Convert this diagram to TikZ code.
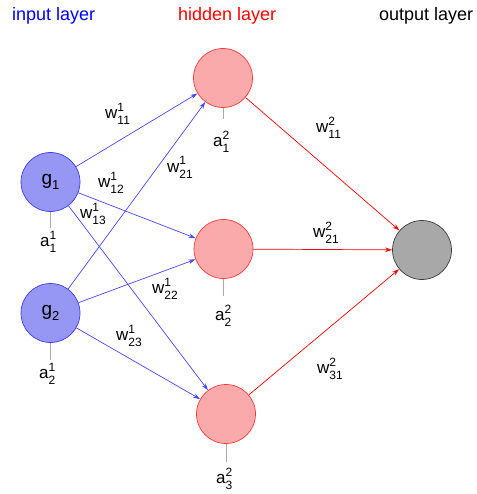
\documentclass[tikz,border=0pt]{standalone}
\usepackage{fontspec}
\setmainfont{Liberation Sans}
\usetikzlibrary{arrows.meta}
\definecolor{inblue}{RGB}{70,70,255}
\definecolor{inborder}{RGB}{60,60,240}
\definecolor{infill}{RGB}{150,150,245}
\definecolor{hidborder}{RGB}{245,60,60}
\definecolor{hidfill}{RGB}{250,170,170}
\definecolor{outfill}{RGB}{168,168,168}
\definecolor{outborder}{RGB}{60,60,60}
\definecolor{stemgray}{RGB}{170,170,170}
\newcommand\sps[3]{#1\makebox[0pt][l]{\raisebox{7pt}{\fontsize{12}{12}\selectfont #3}}\raisebox{-6pt}{\fontsize{12}{12}\selectfont #2}}
\newcommand\gsub[2]{#1\raisebox{-5pt}{\fontsize{13}{13}\selectfont #2}}
\begin{document}
\begin{tikzpicture}[x=1pt,y=-1pt,
  neuron/.style={circle,minimum size=59pt,inner sep=0pt,line width=0.7pt},
  inneuron/.style={neuron,draw=inborder,fill=infill},
  hidneuron/.style={neuron,draw=hidborder,fill=hidfill},
  outneuron/.style={neuron,draw=outborder,fill=outfill},
  title/.style={anchor=base west,inner sep=0pt,font=\fontsize{18}{18}\selectfont},
  wlab/.style={anchor=base west,inner sep=0pt,font=\fontsize{17}{17}\selectfont},
  bluearrow/.style={draw=inblue,line width=0.7pt,-{Stealth[length=7pt,width=4.5pt]}},
  redarrow/.style={draw=red,line width=0.7pt,-{Stealth[length=7pt,width=4.5pt]}},
  stem/.style={draw=stemgray,line width=0.9pt}]
\useasboundingbox (0,0) rectangle (476,494);

% titles
\node[title,text=blue] (tin) at (12,21) {input layer};
\node[title,text=red] (thid) at (178,21) {hidden layer};
\node[title,text=black] (tout) at (379,21) {output layer};

% neurons
\node[inneuron] (g1) at (50.5,182) {\fontsize{19}{19}\selectfont\gsub{g}{1}};
\node[inneuron] (g2) at (50.5,313) {\fontsize{19}{19}\selectfont\gsub{g}{2}};
\node[hidneuron] (h1) at (223,78) {};
\node[hidneuron] (h2) at (223.5,249) {};
\node[hidneuron] (h3) at (226,414) {};
\node[outneuron] (o) at (422,250) {};

% stems
\coordinate (sg1) at (50.5,228);
\coordinate (sg2) at (50.5,360);
\coordinate (sh1) at (223,119);
\coordinate (sh2) at (223.5,296);
\coordinate (sh3) at (226,462);
\draw[stem] (g1) -- (sg1);
\draw[stem] (g2) -- (sg2);
\draw[stem] (h1) -- (sh1);
\draw[stem] (h2) -- (sh2);
\draw[stem] (h3) -- (sh3);

% activation labels
\node[wlab] (a11) at (40,246) {\sps{a}{1}{1}};
\node[wlab] (a21) at (39,378) {\sps{a}{2}{1}};
\node[wlab] (a12) at (213,147) {\sps{a}{1}{2}};
\node[wlab] (a22) at (215,320) {\sps{a}{2}{2}};
\node[wlab] (a32) at (216,483) {\sps{a}{3}{2}};

% connections input -> hidden
\draw[bluearrow] (g1) -- (h1);
\draw[bluearrow] (g1) -- (h2);
\draw[bluearrow] (g1) -- (h3);
\draw[bluearrow] (g2) -- (h1);
\draw[bluearrow] (g2) -- (h2);
\draw[bluearrow] (g2) -- (h3);

% connections hidden -> output
\draw[redarrow] (h1) -- (o);
\draw[redarrow] (h2) -- (o);
\draw[redarrow] (h3) -- (o);

% weight labels
\node[wlab] (w111) at (105,119) {\sps{w}{11}{1}};
\node[wlab] (w211) at (167,172) {\sps{w}{21}{1}};
\node[wlab] (w121) at (98,187) {\sps{w}{12}{1}};
\node[wlab] (w131) at (80,218) {\sps{w}{13}{1}};
\node[wlab] (w221) at (152,293) {\sps{w}{22}{1}};
\node[wlab] (w231) at (116,340) {\sps{w}{23}{1}};
\node[wlab] (w112) at (316,133) {\sps{w}{11}{2}};
\node[wlab] (w212) at (313,237) {\sps{w}{21}{2}};
\node[wlab] (w312) at (317,373) {\sps{w}{31}{2}};
\end{tikzpicture}
\end{document}
